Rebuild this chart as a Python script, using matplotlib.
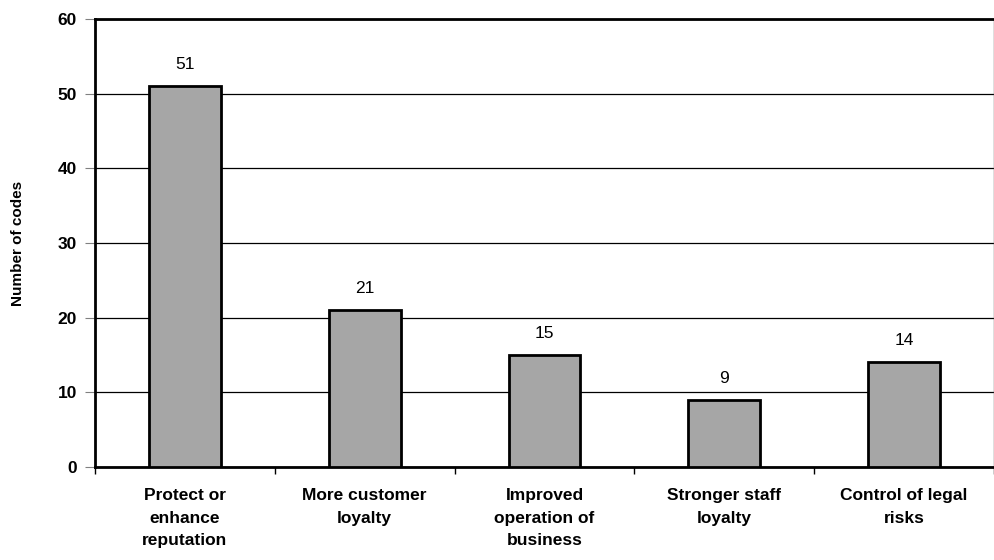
import matplotlib.pyplot as plt
import numpy as np

categories = ["Protect or\nenhance\nreputation", "More customer\nloyalty",
              "Improved\noperation of\nbusiness", "Stronger staff\nloyalty",
              "Control of legal\nrisks"]
counts = [51, 21, 15, 9, 14]
yticks = [0, 10, 20, 30, 40, 50, 60]

plt.rcParams['font.family'] = ['Liberation Sans', 'DejaVu Sans']

fig = plt.figure(figsize=(9.95, 5.6), dpi=100)
ax = fig.add_axes([95 / 995, 1 - 467 / 560, 899 / 995, 448 / 560])

x = np.arange(len(categories))
ax.bar(x, counts, width=0.4, color='#a6a6a6', edgecolor='black', linewidth=2, zorder=3)
for xi, v in zip(x, counts):
    ax.text(xi, v + 2.9, str(v), ha='center', va='center', fontsize=12.5)

ax.set_xlim(-0.5, len(categories) - 0.5)
ax.set_ylim(0, 60)
ax.set_yticks(yticks)
ax.set_yticklabels([str(t) for t in yticks], fontsize=12.5, fontweight='bold')
ax.yaxis.grid(True, color='black', linewidth=0.9, zorder=0)
ax.tick_params(axis='y', direction='out', length=7, color='#808080', pad=6)

# category ticks sit at the boundaries, labels in the middle
ax.set_xticks(np.arange(len(categories) + 1) - 0.5)
ax.set_xticklabels([])
ax.set_xticks(x, minor=True)
ax.set_xticklabels(categories, minor=True, fontsize=12.5, fontweight='bold', linespacing=1.65)
ax.tick_params(axis='x', which='major', direction='out', length=5, width=1)
ax.tick_params(axis='x', which='minor', length=0, pad=15)

ax.spines['left'].set_linewidth(2)
ax.spines['bottom'].set_linewidth(2)
ax.spines['top'].set_linewidth(2)
ax.spines['right'].set_linewidth(1)
ax.spines['right'].set_color('#606060')

ax.set_ylabel('Number of codes', fontsize=11, fontweight='bold')
ax.yaxis.set_label_coords(-70 / 899, 0.5)

fig.savefig('out.png', dpi=100)
